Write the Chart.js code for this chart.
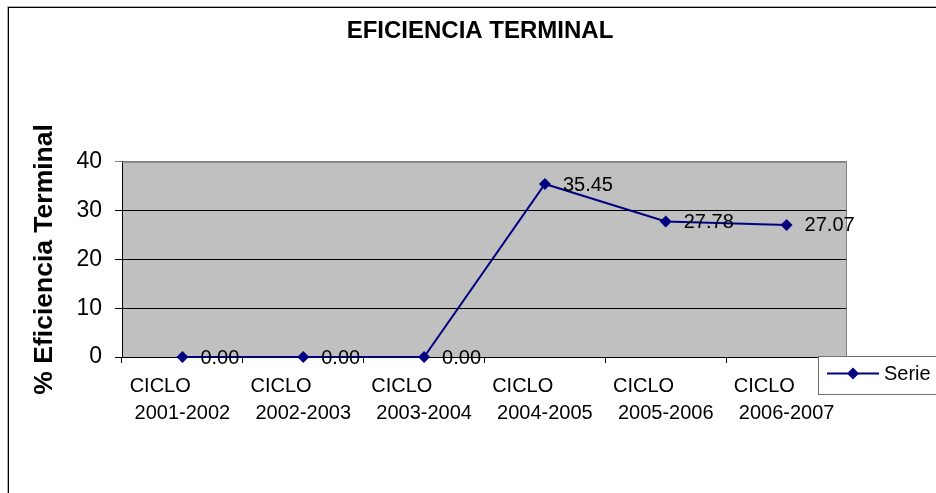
<!DOCTYPE html>
<html>
<head>
<meta charset="utf-8">
<script src="https://cdn.jsdelivr.net/npm/chart.js@4/dist/chart.umd.min.js"></script>
<style>
  html, body { margin: 0; padding: 0; background: #fff; }
  #wrap { width: 936px; height: 493px; }
</style>
</head>
<body>
<div id="wrap"><canvas id="chart"></canvas></div>
<script>
// chart data
const ciclos = ['2001-2002', '2002-2003', '2003-2004', '2004-2005', '2005-2006', '2006-2007'];
const eficiencia = [0.00, 0.00, 0.00, 35.45, 27.78, 27.07];
const yTicks = [0, 10, 20, 30, 40];
const serieName = 'Serie 1';

const FONT = 'Arial, "Liberation Sans", sans-serif';
const NAVY = '#000080';

// "CICLO" sits a bit left of the year line in the original
const labels = ciclos.map(c => ['CICLO        ', c]);

// gray plot background + outer frame
const backgroundPlugin = {
  id: 'plotBackground',
  beforeDraw(chart) {
    const { ctx, chartArea: a } = chart;
    ctx.save();
    ctx.fillStyle = '#C0C0C0';
    ctx.fillRect(a.left, a.top, a.right - a.left, a.bottom - a.top);
    // outer chart border
    ctx.strokeStyle = '#b0b0b0';
    ctx.lineWidth = 1;
    ctx.strokeRect(7.5, 6.5, 1000, 1000);
    ctx.strokeStyle = '#000';
    ctx.strokeRect(8.5, 7.5, 1000, 1000);
    ctx.restore();
  },
  beforeDatasetsDraw(chart) {
    const { ctx, chartArea: a } = chart;
    ctx.save();
    ctx.strokeStyle = '#808080';
    ctx.lineWidth = 1;
    ctx.beginPath();
    ctx.moveTo(a.left, a.top + 0.5);
    ctx.lineTo(a.right - 0.5, a.top + 0.5);
    ctx.lineTo(a.right - 0.5, a.bottom);
    ctx.stroke();
    ctx.restore();
  }
};

// value labels next to every point
const valueLabels = {
  id: 'valueLabels',
  afterDatasetsDraw(chart) {
    const { ctx } = chart;
    const meta = chart.getDatasetMeta(0);
    const values = chart.data.datasets[0].data;
    ctx.save();
    ctx.font = '20px ' + FONT;
    ctx.fillStyle = '#000';
    ctx.textAlign = 'left';
    ctx.textBaseline = 'middle';
    meta.data.forEach((pt, i) => {
      ctx.fillText(values[i].toFixed(2), pt.x + 18, pt.y + 1);
    });
    ctx.restore();
  }
};

// Excel style legend box, partly cut off at the right edge
const legendBox = {
  id: 'legendBox',
  afterDraw(chart) {
    const { ctx } = chart;
    const ds = chart.data.datasets[0];
    const x = 818.5, y = 356.5, h = 38;
    const cy = y + 17;
    ctx.save();
    ctx.fillStyle = '#fff';
    ctx.fillRect(x, y, 200, h);
    ctx.strokeStyle = '#707070';
    ctx.lineWidth = 1;
    ctx.strokeRect(x, y, 200, h);
    ctx.strokeStyle = ds.borderColor;
    ctx.lineWidth = ds.borderWidth;
    ctx.beginPath();
    ctx.moveTo(827, cy);
    ctx.lineTo(879, cy);
    ctx.stroke();
    ctx.fillStyle = ds.pointBackgroundColor;
    Chart.helpers.drawPoint(ctx, { pointStyle: 'rectRot', radius: 6, borderWidth: 0 }, 853, cy);
    ctx.fillStyle = '#000';
    ctx.font = '20px ' + FONT;
    ctx.textBaseline = 'middle';
    ctx.fillText(ds.label, 884, cy + 1);
    ctx.restore();
  }
};

new Chart(document.getElementById('chart'), {
  type: 'line',
  data: {
    labels: labels,
    datasets: [{
      label: serieName,
      data: eficiencia,
      borderColor: NAVY,
      borderWidth: 2,
      backgroundColor: NAVY,
      pointBackgroundColor: NAVY,
      pointBorderColor: NAVY,
      pointStyle: 'rectRot',
      pointRadius: 6,
      pointBorderWidth: 0,
      tension: 0,
      fill: false,
      clip: false
    }]
  },
  options: {
    responsive: true,
    maintainAspectRatio: false,
    animation: false,
    layout: {
      padding: { top: 0, left: 24, right: 0, bottom: 0 }
    },
    plugins: {
      legend: { display: false },
      tooltip: { enabled: false },
      title: {
        display: true,
        text: 'EFICIENCIA TERMINAL',
        color: '#000',
        font: { family: FONT, size: 24, weight: 'bold', lineHeight: 1.2 },
        padding: { top: 17, bottom: 116 }
      }
    },
    scales: {
      x: {
        offset: true,
        afterFit(scale) { scale.height = 136; },
        grid: {
          offset: true,
          drawOnChartArea: false,
          drawTicks: true,
          tickLength: 6,
          color: '#000'
        },
        border: { display: true, color: '#000', width: 1 },
        ticks: {
          color: '#000',
          padding: 10,
          maxRotation: 0,
          autoSkip: false,
          font: { family: FONT, size: 20, lineHeight: 1.35 }
        }
      },
      y: {
        min: 0,
        max: 40,
        afterFit(scale) { scale.width = 98; },
        afterBuildTicks(scale) { scale.ticks = yTicks.map(v => ({ value: v })); },
        grid: {
          drawTicks: true,
          tickLength: 7,
          color: ctx => (ctx.tick && ctx.tick.value === 40) ? '#808080' : '#000'
        },
        border: { display: true, color: '#000', width: 1 },
        ticks: {
          color: '#000',
          padding: 13,
          font: { family: FONT, size: 23 }
        },
        title: {
          display: true,
          text: '% Eficiencia Terminal',
          color: '#000',
          padding: { top: 5, bottom: 0 },
          font: { family: FONT, size: 26.5, weight: 'bold', lineHeight: 1.2 }
        }
      },
      // empty right gutter so the title is centred like the original
      yRight: {
        position: 'right',
        display: true,
        afterFit(scale) { scale.width = 89; },
        grid: { display: false, drawTicks: false },
        border: { display: false },
        ticks: { display: false }
      }
    }
  },
  plugins: [backgroundPlugin, valueLabels, legendBox]
});
</script>
</body>
</html>
